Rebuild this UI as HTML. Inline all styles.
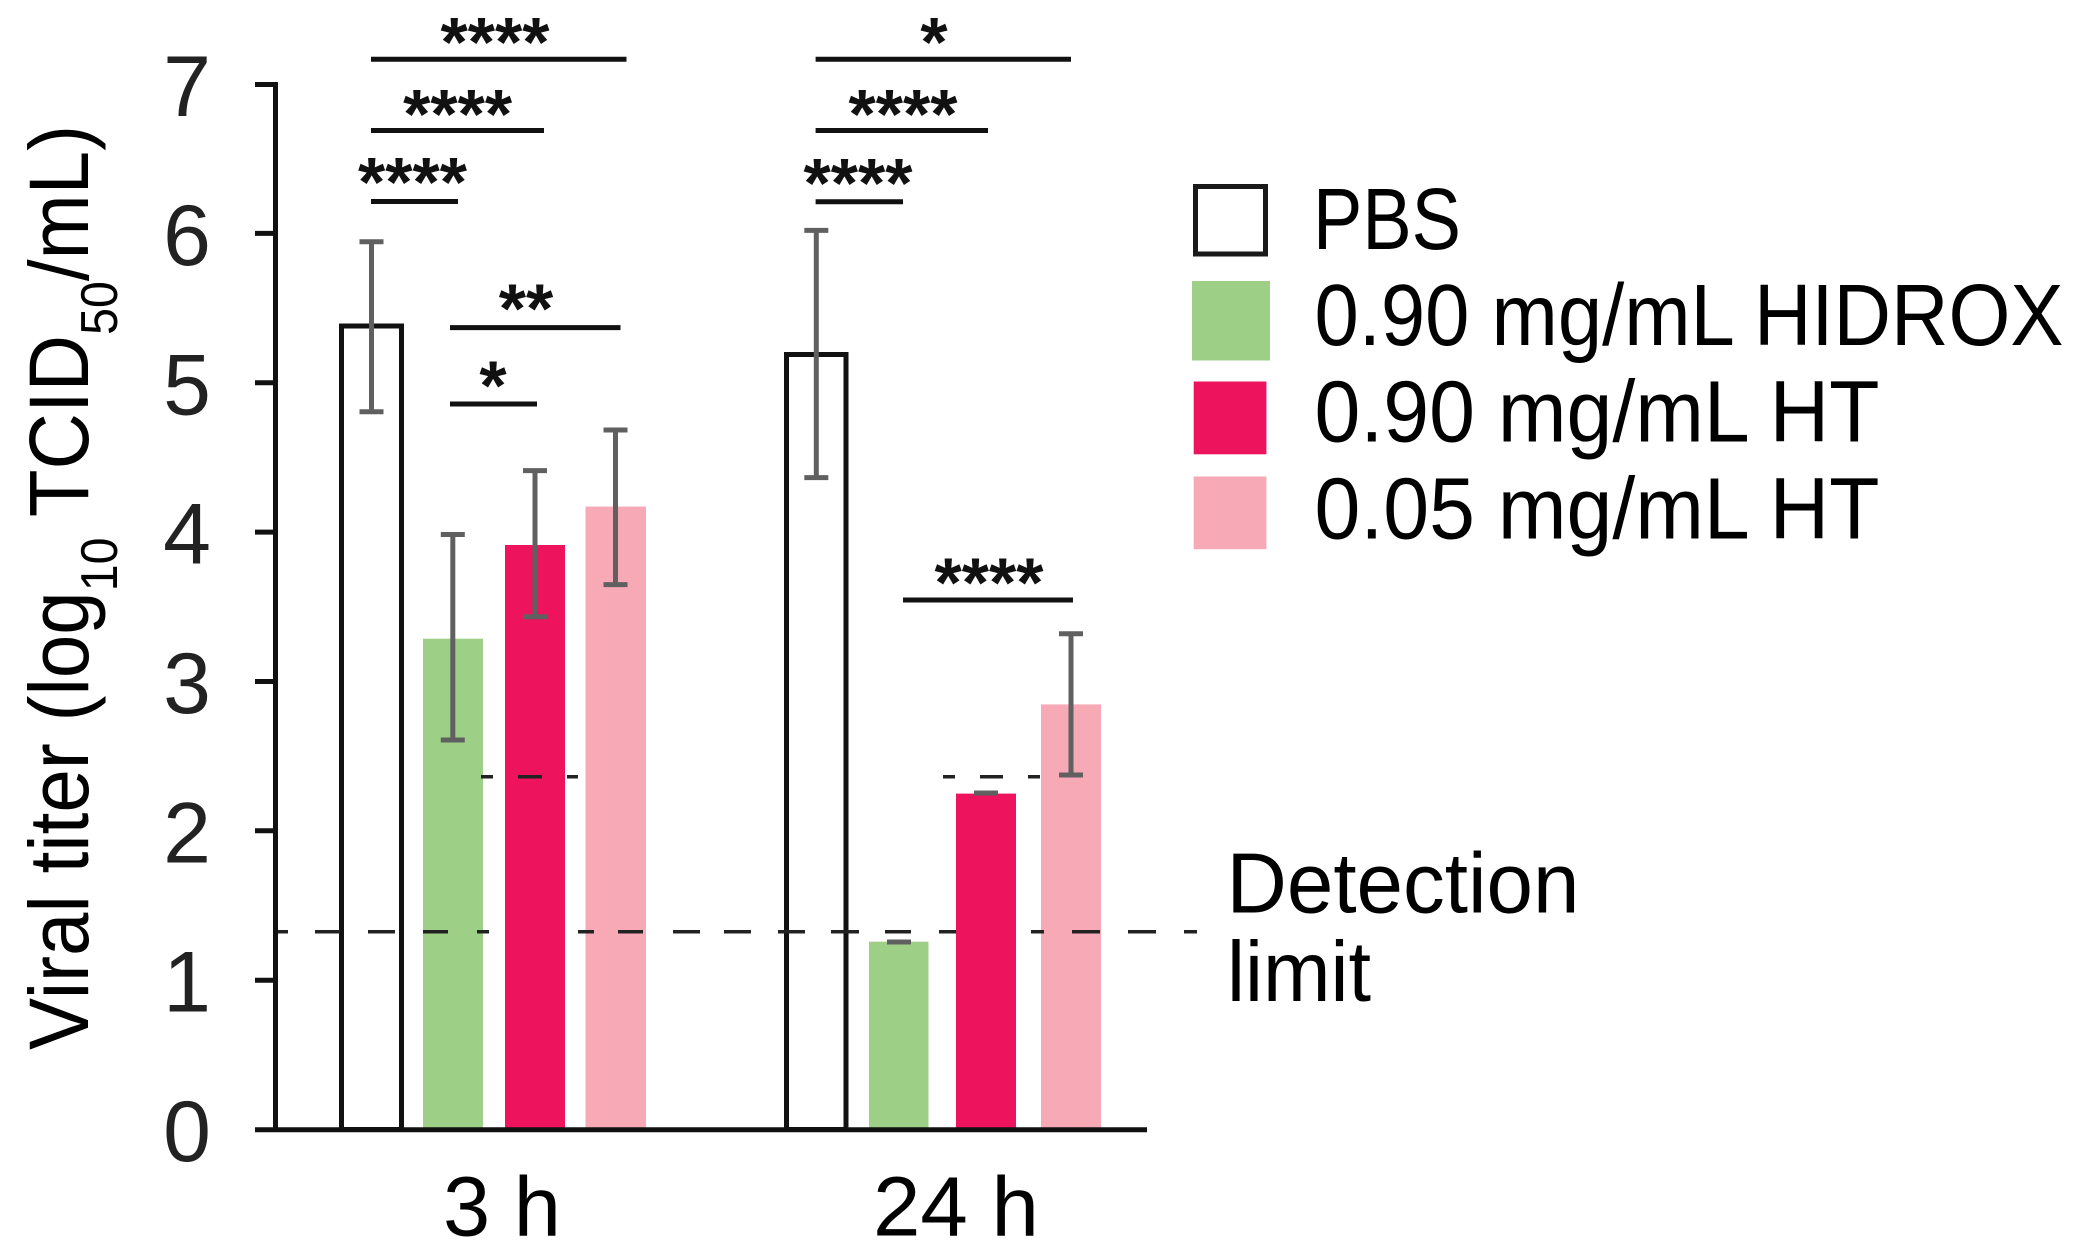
<!DOCTYPE html>
<html><head><meta charset="utf-8"><style>
html,body{margin:0;padding:0;background:#fff;}
svg{display:block;}
text{font-family:"Liberation Sans",Arial,sans-serif;}
</style></head><body>
<svg width="2087" height="1260" viewBox="0 0 2087 1260" xmlns="http://www.w3.org/2000/svg">
<rect width="2087" height="1260" fill="#fff"/>

<!-- bars (non-red) -->
<rect x="341.5" y="326" width="60" height="803.5" fill="#fff" stroke="#111" stroke-width="5"/>
<rect x="423" y="638.7" width="60" height="491" fill="#9dcf86"/>
<rect x="585.5" y="506.6" width="60.5" height="623" fill="#f7aab6"/>
<rect x="786.5" y="354.5" width="59.5" height="775" fill="#fff" stroke="#111" stroke-width="5"/>
<rect x="869" y="941.7" width="59.5" height="188" fill="#9dcf86"/>
<rect x="1041" y="704.4" width="60" height="425" fill="#f7aab6"/>

<!-- detection limit dashed line -->
<path d="M277 931.7H288 M315 931.7H340 M368 931.7H395 M423 931.7H448 M477 931.7H489 M578 931.7H594 M618 931.7H643 M673 931.7H700 M724 931.7H751 M778 931.7H805 M831 931.7H859 M885 931.7H911 M939 931.7H956 M1031 931.7H1044 M1072 931.7H1100 M1128 931.7H1156 M1184 931.7H1197" stroke="#222" stroke-width="3.5" fill="none"/>

<!-- red bars -->
<rect x="505" y="545" width="60" height="585" fill="#ed135c"/>
<rect x="956" y="793.6" width="60" height="336" fill="#ed135c"/>

<!-- 2.36 dashed -->
<path d="M481 776.8H493 M518 776.8H542 M567 776.8H578 M943 776.8H955 M980 776.8H1003 M1028 776.8H1040" stroke="#222" stroke-width="3.5" fill="none"/>

<!-- axes -->
<g stroke="#111" stroke-width="5" fill="none">
<path d="M275.5 82V1132"/>
<path d="M255 1129.8H1147"/>
<path d="M255 84.5H277 M255 233.4H277 M255 382.8H277 M255 532.1H277 M255 681.5H277 M255 830.8H277 M255 980.2H277"/>
</g>

<!-- tick labels -->
<g font-size="86" fill="#222" text-anchor="end">
<text x="211" y="116">7</text>
<text x="211" y="265">6</text>
<text x="211" y="414.3">5</text>
<text x="211" y="563.6">4</text>
<text x="211" y="713">3</text>
<text x="211" y="862.3">2</text>
<text x="211" y="1011.7">1</text>
<text x="211" y="1161">0</text>
</g>

<!-- error bars -->
<g stroke="#606060" stroke-width="5" fill="none">
<path d="M371.5 241.7V411.7 M359.5 241.7H383.5 M359.5 411.7H383.5"/>
<path d="M452.8 534.5V740 M440.8 534.5H464.8 M440.8 740H464.8"/>
<path d="M535 470.6V616.8 M523 470.6H547 M523 616.8H547"/>
<path d="M615.5 430V584.6 M603.5 430H627.5 M603.5 584.6H627.5"/>
<path d="M816.3 230.4V477.6 M804.3 230.4H828.3 M804.3 477.6H828.3"/>
<path d="M887 942H911"/>
<path d="M974 793H998"/>
<path d="M1071 633.7V775 M1059 633.7H1083 M1059 775H1083"/>
</g>

<!-- significance lines -->
<g stroke="#111" stroke-width="5" fill="none">
<path d="M371 59.3H626.5 M371 130.5H544 M371 201.5H458"/>
<path d="M450 327.6H620.5 M450 404H537"/>
<path d="M815.6 59.3H1071 M815.6 130.5H988 M815.6 201.7H903"/>
<path d="M903 600H1073"/>
</g>

<!-- stars -->
<g font-size="70" font-weight="bold" fill="#111" text-anchor="middle">
<text x="495" y="66">****</text>
<text x="457.6" y="138">****</text>
<text x="412.5" y="206">****</text>
<text x="526" y="332.6">**</text>
<text x="493" y="409.5">*</text>
<text x="934" y="66">*</text>
<text x="903" y="138">****</text>
<text x="858" y="207">****</text>
<text x="989" y="606.6">****</text>
</g>

<!-- legend -->
<rect x="1195.5" y="186.5" width="70" height="67.5" fill="#fff" stroke="#1a1a1a" stroke-width="5"/>
<rect x="1192" y="281" width="78" height="79.5" fill="#9dcf86"/>
<rect x="1193.7" y="381.5" width="72.7" height="72.8" fill="#ed135c"/>
<rect x="1193.7" y="476.5" width="72.7" height="72.7" fill="#f7aab6"/>
<g font-size="87" fill="#000">
<text x="1313" y="249" textLength="148" lengthAdjust="spacingAndGlyphs">PBS</text>
<text x="1314.5" y="345" textLength="749" lengthAdjust="spacingAndGlyphs">0.90 mg/mL HIDROX</text>
<text x="1314.5" y="441.7" textLength="565" lengthAdjust="spacingAndGlyphs">0.90 mg/mL HT</text>
<text x="1314.5" y="538.3" textLength="565" lengthAdjust="spacingAndGlyphs">0.05 mg/mL HT</text>
</g>

<!-- detection limit label -->
<g font-size="85" fill="#000">
<text x="1226.5" y="912.7" textLength="353" lengthAdjust="spacingAndGlyphs">Detection</text>
<text x="1227" y="1001" textLength="144" lengthAdjust="spacingAndGlyphs">limit</text>
</g>

<!-- x labels -->
<g font-size="84" fill="#000">
<text x="443" y="1235.5" textLength="118" lengthAdjust="spacingAndGlyphs">3 h</text>
<text x="873" y="1235.5" textLength="166" lengthAdjust="spacingAndGlyphs">24 h</text>
</g>

<!-- y title -->
<g transform="translate(88,1050) rotate(-90) scale(0.93,1)">
<text x="0" y="0" font-size="84" fill="#000">Viral titer (log<tspan font-size="52" dy="29">10</tspan><tspan dy="-29"> TCID</tspan><tspan font-size="52" dy="29">50</tspan><tspan dy="-29">/mL)</tspan></text>
</g>
</svg>
</body></html>
